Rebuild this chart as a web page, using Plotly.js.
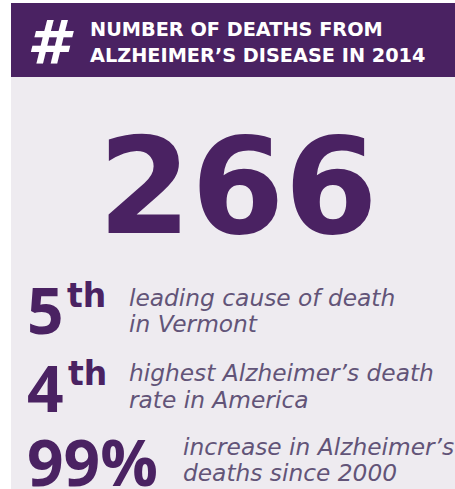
<!DOCTYPE html>
<html>
<head>
<meta charset="utf-8">
<script src="https://cdn.plot.ly/plotly-3.0.1.min.js"></script>
<style>
  html, body { margin: 0; padding: 0; background: #ffffff; }
  #chart { width: 455px; height: 489px; }
</style>
</head>
<body>
<div id="chart"></div>
<script>
// ---- data ----
const headerSymbol = "#";
const headerLines = ["NUMBER OF DEATHS FROM", "ALZHEIMER’S DISEASE IN 2014"];
const totalDeaths = 266;
const statValues = ["5", "4", "99%"];
const statSuffixes = ["th", "th", ""];
const statDescriptions = [
  ["leading cause of death", "in Vermont"],
  ["highest Alzheimer’s death", "rate in America"],
  ["increase in Alzheimer’s", "deaths since 2000"]
];

// ---- layout constants ----
const W = 455, H = 489;
const purple = "rgb(74,34,98)";
const panelGray = "rgb(238,235,240)";
const descColor = "rgb(98,84,120)";
const rowCenterY = [307, 385, 459];
const descLineY = [[297, 323], [372, 399], [446, 472]];
const valueX = 25;
const suffixX = [65, 66];
const descX = [127, 127, 181];

const annotations = [];
annotations.push({
  x: 50, y: 42, xref: "x", yref: "y", text: "<b><i>" + headerSymbol + "</i></b>",
  showarrow: false, xanchor: "center", yanchor: "middle",
  font: {family: "DejaVu Sans", size: 60, color: "#ffffff"}
});
headerLines.forEach(function (t, j) {
  annotations.push({
    x: 88, y: j === 0 ? 29 : 55, xref: "x", yref: "y", text: "<b>" + t + "</b>",
    showarrow: false, xanchor: "left", yanchor: "middle", align: "left",
    font: {family: "DejaVu Sans", size: 19.3, color: "#ffffff"}
  });
});
annotations.push({
  x: 238, y: 187, xref: "x", yref: "y", text: "<b>" + String(totalDeaths) + "</b>",
  showarrow: false, xanchor: "center", yanchor: "middle",
  font: {family: "DejaVu Sans", size: 134, color: purple}
});
statValues.forEach(function (v, i) {
  annotations.push({
    x: valueX, y: rowCenterY[i] + 2, xref: "x", yref: "y", text: v,
    showarrow: false, xanchor: "left", yanchor: "middle",
    font: {family: "Open Sans", size: 64, weight: 700, color: purple}
  });
  if (statSuffixes[i]) {
    annotations.push({
      x: suffixX[i], y: rowCenterY[i] - 12, xref: "x", yref: "y", text: "<b>" + statSuffixes[i] + "</b>",
      showarrow: false, xanchor: "left", yanchor: "middle",
      font: {family: "DejaVu Sans", size: 33, color: purple}
    });
  }
  statDescriptions[i].forEach(function (line, j) {
    annotations.push({
      x: descX[i], y: descLineY[i][j], xref: "x", yref: "y",
      text: "<i>" + line + "</i>",
      showarrow: false, xanchor: "left", yanchor: "middle", align: "left",
      font: {family: "DejaVu Sans", size: 23.3, color: descColor}
    });
  });
});

const layout = {
  width: W, height: H,
  margin: {l: 0, r: 0, t: 0, b: 0, pad: 0},
  paper_bgcolor: "#ffffff", plot_bgcolor: "#ffffff",
  showlegend: false,
  xaxis: {range: [0, W], visible: false, fixedrange: true},
  yaxis: {range: [H, 0], visible: false, fixedrange: true},
  shapes: [
    {type: "rect", xref: "x", yref: "y", x0: 11, x1: W, y0: 77, y1: H, fillcolor: panelGray, line: {width: 0}, layer: "below"},
    {type: "rect", xref: "x", yref: "y", x0: 11, x1: W, y0: 3, y1: 77, fillcolor: purple, line: {width: 0}, layer: "below"}
  ],
  annotations: annotations
};

Plotly.newPlot("chart", [], layout, {displayModeBar: false, staticPlot: true});
</script>
</body>
</html>
